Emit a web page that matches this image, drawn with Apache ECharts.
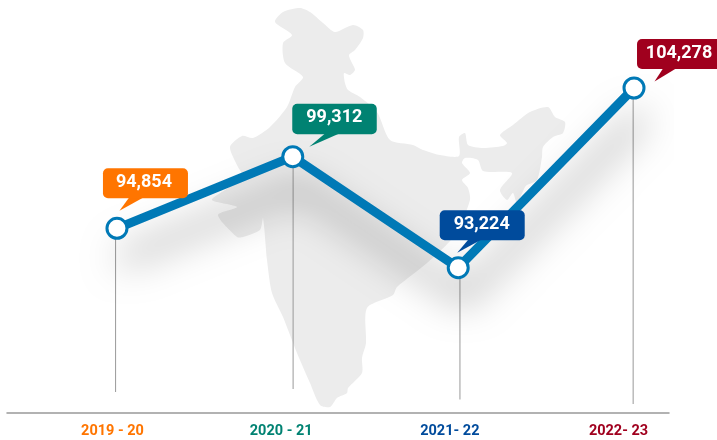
<!DOCTYPE html>
<html>
<head>
<meta charset="utf-8">
<style>html,body{margin:0;padding:0;background:#fff}#c{width:717px;height:440px}</style>
<script src="https://cdn.jsdelivr.net/npm/echarts@6/dist/echarts.min.js"></script>
</head>
<body>
<div id="c"></div>
<script>
const categories = ['2019 - 20', '2020 - 21', '2021- 22', '2022- 23'];
const values = [94854, 99312, 93224, 104278];
// the reference's vertical scale is not linear in the values: levels
const levels = [184.7, 256.3, 145.3, 325];
const dropEnds = [21, 24, 13.5, 9];
const slots = [0, 1.02, 1.98, 3];
const dropSlots = [-0.008, 1.022, 1.99, 2.995];
const colors = ['#FF7500', '#008272', '#004B9C', '#A0001E'];

const lineColor = '#0079B6';
// callout geometry relative to each point: box [left, top, right, bottom], tail [tipX, tipY, baseX1, baseX2]
const boxes = [[-14, -60, 71, -30], [-0.5, -53, 84, -22.5], [-18.5, -57.5, 66.5, -27.5], [3, -49, 90, -19]];
const tails = [[2.5, -17.5, 12, 26], [16.5, -10, 32, 46], [-1, -15, 10, 23], [20.5, -6.5, 29, 42]];
const textDx = [27, 41.5, 23.5, 45];

const india = [[275,22],[283,12],[300,8],[310,12],[323,23],[335,32],[353,25],[363,30],[363,38],[355,50],[349,55],[352,63],[355,70],[350,75],[344,73],[345,83],[348,90],[360,97],[377,112],[390,140],[413,145],[423,150],[440,155],[459,156],[459,137],[465,133],[468,145],[483,148],[503,146],[507,143],[500,135],[513,125],[530,112],[548,107],[555,117],[565,122],[563,133],[553,137],[543,147],[542,157],[537,180],[527,185],[525,187],[517,203],[513,193],[507,200],[500,190],[512,173],[483,171],[478,160],[465,158],[462,163],[470,173],[462,180],[468,188],[470,200],[455,235],[427,263],[397,287],[393,295],[367,308],[366,343],[362,358],[362,373],[348,388],[347,393],[337,398],[330,407],[320,405],[310,383],[297,353],[283,317],[272,293],[267,260],[263,218],[260,230],[243,237],[237,237],[218,215],[237,207],[212,200],[225,190],[243,177],[238,167],[230,147],[242,136],[253,138],[270,127],[287,107],[295,87],[303,77],[285,63],[283,43],[292,35]];

const chart = echarts.init(document.getElementById('c'), null, {renderer: 'canvas'});
const option = {
  animation: false,
  backgroundColor: '#fff',
  textStyle: {fontFamily: 'Roboto'},
  graphic: [{
    type: 'polygon', z: -10, silent: true,
    shape: {points: india, smooth: 0.25},
    style: {fill: '#ECECEC'}
  }],
  grid: [
    {left: 7, width: 662, top: 0, height: 413},
    {left: 112.5, width: 506, top: 400, height: 13}
  ],
  xAxis: [
    {type: 'value', gridIndex: 0, min: -0.638, max: 3.203, splitLine: {show: false},
     axisLine: {show: true, onZero: false, lineStyle: {color: '#999', width: 1.5}},
     axisTick: {show: false}, axisLabel: {show: false}},
    {type: 'category', gridIndex: 1, boundaryGap: false,
     data: categories.map((c, i) => ({value: c, textStyle: {color: colors[i]}})),
     axisLine: {show: false}, axisTick: {show: false},
     axisLabel: {interval: 0, margin: 11, fontFamily: 'Roboto', fontWeight: 'bold', fontSize: 14.5, hideOverlap: false, showMinLabel: true, showMaxLabel: true}}
  ],
  yAxis: [
    {type: 'value', gridIndex: 0, min: 0, max: 413, show: false},
    {type: 'value', gridIndex: 1, show: false}
  ],
  series: [
    {
      type: 'custom', z: 1, xAxisIndex: 0, yAxisIndex: 0, silent: true,
      data: dropSlots.map((s, i) => [s, levels[i], dropEnds[i]]),
      encode: {x: 0, y: [1, 2]},
      renderItem(p, api) {
        const a = api.coord([api.value(0), api.value(1)]);
        const b = api.coord([api.value(0), api.value(2)]);
        return {type: 'line', shape: {x1: a[0], y1: a[1], x2: b[0], y2: b[1]},
                style: {stroke: '#999999', lineWidth: 1}};
      }
    },
    {
      type: 'line', z: 3, xAxisIndex: 0, yAxisIndex: 0,
      data: slots.map((s, i) => [s, levels[i]]),
      symbol: 'circle', symbolSize: 20, showSymbol: true, silent: true,
      itemStyle: {color: '#fff', borderColor: lineColor, borderWidth: 3, opacity: 1},
      lineStyle: {color: lineColor, width: 9, shadowColor: 'rgba(0,0,0,0.5)', shadowBlur: 38, shadowOffsetX: 6, shadowOffsetY: 30, cap: 'round'}
    },
    {
      type: 'custom', z: 5, xAxisIndex: 0, yAxisIndex: 0, silent: true,
      data: slots.map((s, i) => [s, levels[i], i]),
      encode: {x: 0, y: 1},
      renderItem(p, api) {
        const pt = api.coord([api.value(0), api.value(1)]);
        const i = api.value(2);
        const b = boxes[i], t = tails[i];
        return {
          type: 'group', x: pt[0], y: pt[1],
          children: [
            {type: 'polygon', shape: {points: [[t[0], t[1]], [t[2], b[3] - 0.5], [t[3], b[3] - 0.5]]}, style: {fill: colors[i]}},
            {type: 'rect', shape: {x: b[0], y: b[1], width: b[2] - b[0], height: b[3] - b[1], r: 5}, style: {fill: colors[i]}},
            {type: 'text', x: textDx[i], y: (b[1] + b[3]) / 2 - 1,
             style: {text: values[i].toLocaleString('en-US'), fill: '#fff', font: 'bold 18px Roboto', align: 'center', verticalAlign: 'middle'}}
          ]
        };
      }
    }
  ]
};
chart.setOption(option);
</script>
</body>
</html>
